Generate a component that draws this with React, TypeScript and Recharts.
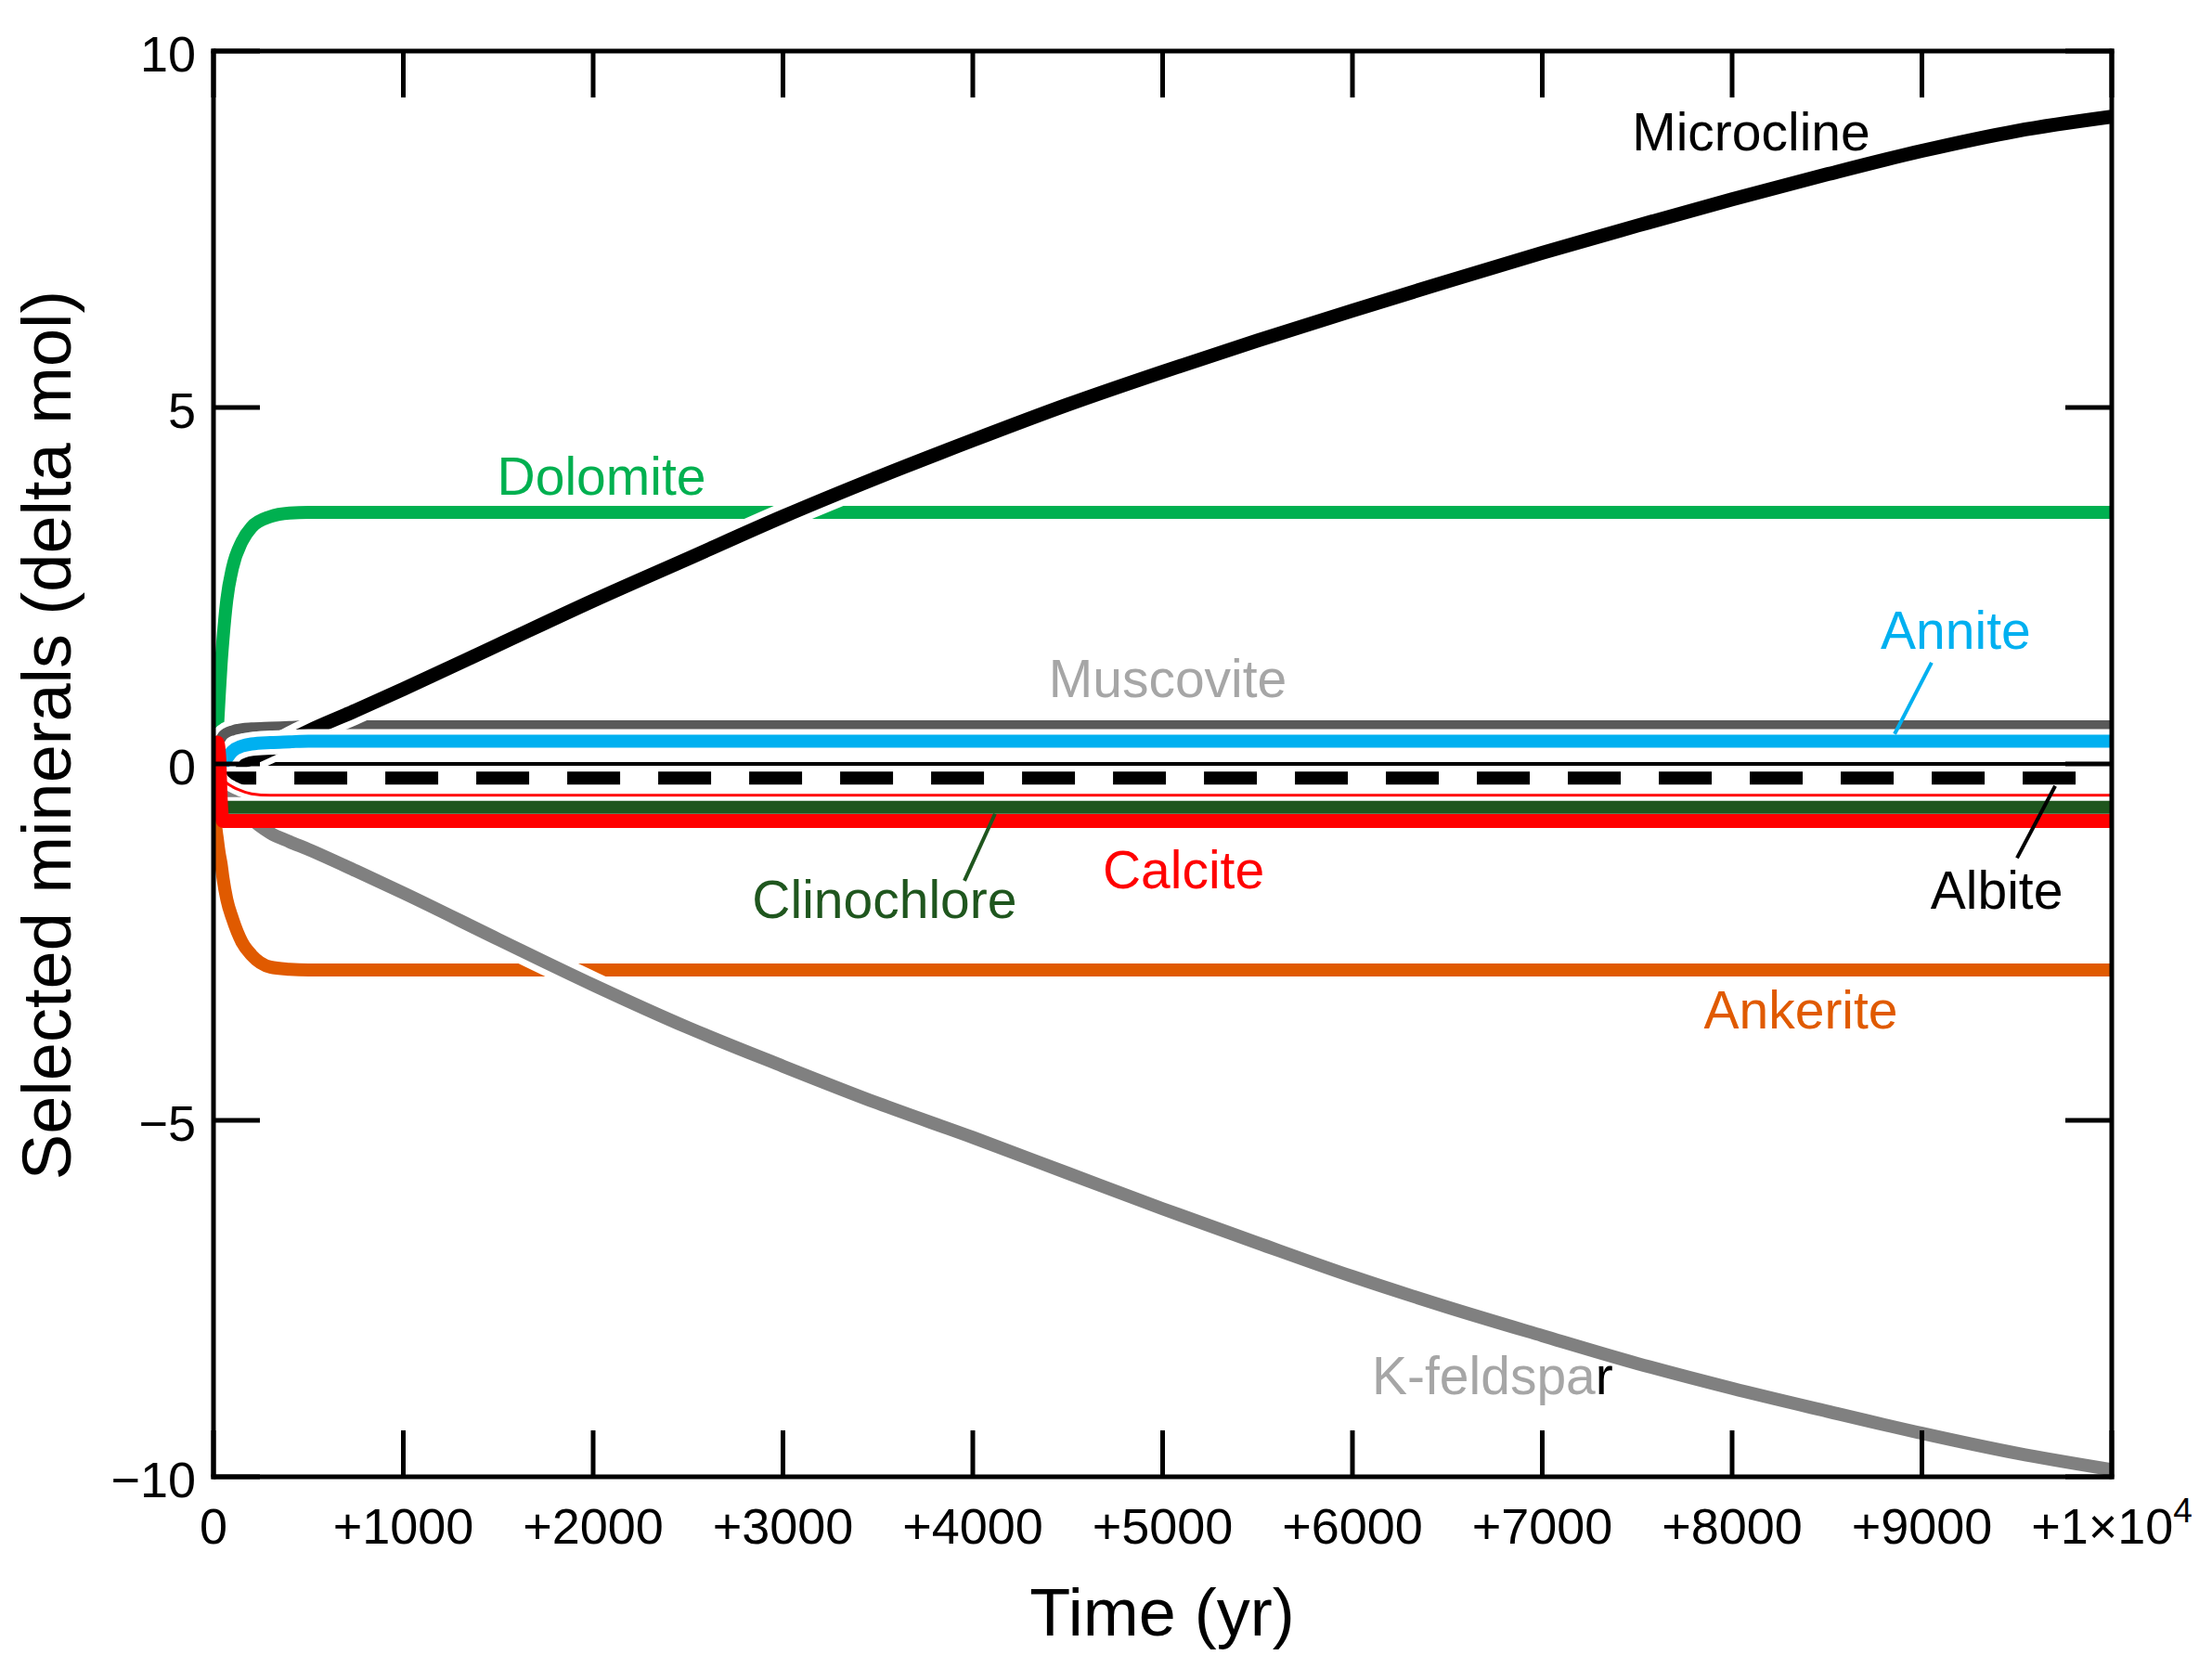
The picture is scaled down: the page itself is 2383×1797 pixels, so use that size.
import React from 'react'
import { LineChart, Line, XAxis, YAxis, ReferenceLine, ReferenceDot } from 'recharts'

const W = 2383
const H = 1797
const FONT = '"Liberation Sans", Arial, Helvetica, sans-serif'

// time (yr), shared by every series
const years = [0, 10, 20, 30, 40, 50, 70, 100, 150, 200, 300, 400, 500, 750, 1000, 1500, 2000, 2500, 3000, 3500, 4000, 4500, 5000, 5500, 6000, 6500, 7000, 7500, 8000, 8500, 9000, 9500, 10000]

// delta mol
const microcline = [0, 0, 0, 0, 0, 0, 0, 0.01, 0.03, 0.08, 0.2, 0.33, 0.46, 0.75, 1.05, 1.67, 2.29, 2.88, 3.47, 4.02, 4.54, 5.04, 5.5, 5.94, 6.36, 6.77, 7.17, 7.55, 7.92, 8.27, 8.6, 8.88, 9.08]
const kFeldspar = [0, -0.05, -0.1, -0.15, -0.2, -0.25, -0.33, -0.45, -0.62, -0.77, -0.97, -1.09, -1.2, -1.5, -1.81, -2.46, -3.1, -3.7, -4.24, -4.76, -5.24, -5.74, -6.24, -6.72, -7.19, -7.62, -8.02, -8.41, -8.76, -9.08, -9.39, -9.67, -9.9]
const dolomite = [0, 0.2, 0.48, 0.95, 1.4, 1.75, 2.3, 2.75, 3.12, 3.32, 3.47, 3.52, 3.53, 3.53, 3.53, 3.53, 3.53, 3.53, 3.53, 3.53, 3.53, 3.53, 3.53, 3.53, 3.53, 3.53, 3.53, 3.53, 3.53, 3.53, 3.53, 3.53, 3.53]
const muscovite = [0, 0.1, 0.22, 0.3, 0.36, 0.4, 0.44, 0.47, 0.5, 0.51, 0.52, 0.53, 0.54, 0.54, 0.54, 0.54, 0.54, 0.54, 0.54, 0.54, 0.54, 0.54, 0.54, 0.54, 0.54, 0.54, 0.54, 0.54, 0.54, 0.54, 0.54, 0.54, 0.54]
const annite = [0, 0, 0, 0, 0, 0, 0.08, 0.18, 0.25, 0.28, 0.3, 0.31, 0.32, 0.32, 0.32, 0.32, 0.32, 0.32, 0.32, 0.32, 0.32, 0.32, 0.32, 0.32, 0.32, 0.32, 0.32, 0.32, 0.32, 0.32, 0.32, 0.32, 0.32]
const albite = [0, -0.1, -0.18, -0.2, -0.2, -0.2, -0.2, -0.2, -0.2, -0.2, -0.2, -0.2, -0.2, -0.2, -0.2, -0.2, -0.2, -0.2, -0.2, -0.2, -0.2, -0.2, -0.2, -0.2, -0.2, -0.2, -0.2, -0.2, -0.2, -0.2, -0.2, -0.2, -0.2]
const minorRed = [0, -0.05, -0.1, -0.14, -0.18, -0.22, -0.27, -0.32, -0.38, -0.42, -0.44, -0.44, -0.44, -0.44, -0.44, -0.44, -0.44, -0.44, -0.44, -0.44, -0.44, -0.44, -0.44, -0.44, -0.44, -0.44, -0.44, -0.44, -0.44, -0.44, -0.44, -0.44, -0.44]
const clinochlore = [0, -0.3, -0.55, -0.61, -0.61, -0.61, -0.61, -0.61, -0.61, -0.61, -0.61, -0.61, -0.61, -0.61, -0.61, -0.61, -0.61, -0.61, -0.61, -0.61, -0.61, -0.61, -0.61, -0.61, -0.61, -0.61, -0.61, -0.61, -0.61, -0.61, -0.61, -0.61, -0.61]
const calcite = [0, 0.25, 0.3, 0.1, -0.6, -0.8, -0.8, -0.8, -0.8, -0.8, -0.8, -0.8, -0.8, -0.8, -0.8, -0.8, -0.8, -0.8, -0.8, -0.8, -0.8, -0.8, -0.8, -0.8, -0.8, -0.8, -0.8, -0.8, -0.8, -0.8, -0.8, -0.8, -0.8]
const ankerite = [0, -0.8, -1.05, -1.25, -1.4, -1.6, -1.9, -2.17, -2.5, -2.68, -2.85, -2.88, -2.89, -2.89, -2.89, -2.89, -2.89, -2.89, -2.89, -2.89, -2.89, -2.89, -2.89, -2.89, -2.89, -2.89, -2.89, -2.89, -2.89, -2.89, -2.89, -2.89, -2.89]

const xTicks = [0, 1000, 2000, 3000, 4000, 5000, 6000, 7000, 8000, 9000, 10000]
const xTickLabels = ['0', '+1000', '+2000', '+3000', '+4000', '+5000', '+6000', '+7000', '+8000', '+9000', '+1×10^4']
const yTicks = [-10, -5, 0, 5, 10]
const yTickLabels = ['−10', '−5', '0', '5', '10']

const rows = years.map((t, i) => ({
  t,
  microcline: microcline[i],
  kFeldspar: kFeldspar[i],
  dolomite: dolomite[i],
  muscovite: muscovite[i],
  annite: annite[i],
  albite: albite[i],
  minorRed: minorRed[i],
  clinochlore: clinochlore[i],
  calcite: calcite[i],
  ankerite: ankerite[i],
}))

// drawing order matters: later curves cut earlier ones with their white halo
const series = [
  { key: 'dolomite', color: '#00b050', width: 14, halo: 12 },
  { key: 'muscovite', color: '#595959', width: 11, halo: 12 },
  { key: 'ankerite', color: '#e05a00', width: 14, halo: 12 },
  { key: 'kFeldspar', color: '#808080', width: 14, halo: 14 },
  { key: 'microcline', color: '#000000', width: 15, halo: 14 },
  { key: 'annite', color: '#00b0f0', width: 14, halo: 12 },
  { key: 'albite', color: '#000000', width: 14, halo: 10, dash: '57 41' },
  { key: 'minorRed', color: '#ff0000', width: 3, halo: 10 },
  { key: 'clinochlore', color: '#1f561e', width: 14, halo: 8 },
  { key: 'calcite', color: '#ff0000', width: 15, halo: 0 },
]

const notes = [
  { text: 'Microcline', t: 8100, v: 8.61, color: '#000000' },
  { text: 'Dolomite', t: 2044, v: 3.78, color: '#00b050' },
  { text: 'Muscovite', t: 5027, v: 0.94, color: '#a6a6a6' },
  { text: 'Annite', t: 9178, v: 1.61, color: '#00b0f0' },
  { text: 'Albite', t: 9394, v: -2.03, color: '#000000' },
  { text: 'Clinochlore', t: 3535, v: -2.16, color: '#1f561e' },
  { text: 'Calcite', t: 5110, v: -1.74, color: '#ff0000' },
  { text: 'Ankerite', t: 8362, v: -3.71, color: '#e05a00' },
]

const leaders = [
  { color: '#00b0f0', from: { x: 9051, y: 1.42 }, to: { x: 8856, y: 0.42 } },
  { color: '#000000', from: { x: 9702, y: -0.31 }, to: { x: 9501, y: -1.32 } },
  { color: '#1f561e', from: { x: 4117, y: -0.7 }, to: { x: 3956, y: -1.64 } },
]

const frame = { stroke: '#000', strokeWidth: 5, strokeLinecap: 'square' as const }

// eslint-disable-next-line @typescript-eslint/no-explicit-any
const BottomTick = ({ x, y, payload }: any) => {
  const label = xTickLabels[xTicks.indexOf(payload.value)] ?? String(payload.value)
  const [base, exp] = label.split('^')
  return (
    <g>
      <line x1={x} x2={x} y1={y} y2={y - 50} stroke="#000" strokeWidth={5} />
      <text x={x} y={y + 72} textAnchor="middle" fontSize={54} fontFamily={FONT} fill="#000">
        {base}
        {exp && <tspan fontSize={37} dy={-23}>{exp}</tspan>}
      </text>
    </g>
  )
}

// eslint-disable-next-line @typescript-eslint/no-explicit-any
const TopTick = ({ x, y }: any) => (
  <line x1={x} x2={x} y1={y} y2={y + 50} stroke="#000" strokeWidth={5} />
)

// eslint-disable-next-line @typescript-eslint/no-explicit-any
const LeftTick = ({ x, y, payload }: any) => (
  <g>
    <line x1={x} x2={x + 50} y1={y} y2={y} stroke="#000" strokeWidth={5} />
    <text x={x - 19} y={y + 22} textAnchor="end" fontSize={54} fontFamily={FONT} fill="#000">
      {yTickLabels[yTicks.indexOf(payload.value)]}
    </text>
  </g>
)

// eslint-disable-next-line @typescript-eslint/no-explicit-any
const RightTick = ({ x, y }: any) => (
  <line x1={x} x2={x - 50} y1={y} y2={y} stroke="#000" strokeWidth={5} />
)

// eslint-disable-next-line @typescript-eslint/no-explicit-any
const noteShape = (text: string, color: string) => (p: any) => (
  <text x={p.cx} y={p.cy} textAnchor="middle" fontSize={57} fontFamily={FONT} fill={color}>
    {text}
  </text>
)

// eslint-disable-next-line @typescript-eslint/no-explicit-any
const kfeldShape = (p: any) => (
  <text x={p.cx} y={p.cy} textAnchor="middle" fontSize={57} fontFamily={FONT} fill="#a6a6a6">
    K-feldspa<tspan fill="#000">r</tspan>
  </text>
)

export default function App() {
  return (
    <div style={{ position: 'absolute', left: 0, top: 0, width: W, height: H, background: '#fff' }}>
      <LineChart width={W} height={H} data={rows} margin={{ top: 50, right: 100, bottom: 56, left: 100 }}>
        <XAxis xAxisId="b" dataKey="t" type="number" domain={[0, 10000]} ticks={xTicks} interval={0}
          allowDataOverflow tick={(p: any) => <BottomTick {...p} />} tickLine={false} tickSize={0} tickMargin={0}
          axisLine={frame} height={150} />
        <XAxis xAxisId="t" orientation="top" dataKey="t" type="number" domain={[0, 10000]} ticks={xTicks}
          interval={0} allowDataOverflow tick={(p: any) => <TopTick {...p} />} tickLine={false} tickSize={0}
          tickMargin={0} axisLine={frame} height={5} />
        <YAxis yAxisId="l" type="number" domain={[-10, 10]} ticks={yTicks} interval={0} allowDataOverflow
          tick={(p: any) => <LeftTick {...p} />} tickLine={false} tickSize={0} tickMargin={0}
          axisLine={frame} width={130} />
        <YAxis yAxisId="r" orientation="right" type="number" domain={[-10, 10]} ticks={yTicks} interval={0}
          allowDataOverflow tick={(p: any) => <RightTick {...p} />} tickLine={false} tickSize={0}
          tickMargin={0} axisLine={frame} width={8} />

        <ReferenceLine xAxisId="b" yAxisId="l" y={0} stroke="#000" strokeWidth={4} />

        {series.flatMap(s => {
          const out = []
          if (s.halo > 0) {
            out.push(
              <Line key={s.key + '-halo'} xAxisId="b" yAxisId="l" type="monotone" dataKey={s.key}
                stroke="#fff" strokeWidth={s.width + s.halo} dot={false} activeDot={false}
                isAnimationActive={false} />
            )
          }
          out.push(
            <Line key={s.key} xAxisId="b" yAxisId="l" type="monotone" dataKey={s.key}
              stroke={s.color} strokeWidth={s.width} strokeDasharray={s.dash} dot={false}
              activeDot={false} isAnimationActive={false} />
          )
          return out
        })}

        {leaders.map((l, i) => (
          <ReferenceLine key={'lead' + i} xAxisId="b" yAxisId="l" segment={[l.from, l.to]}
            stroke={l.color} strokeWidth={4} />
        ))}

        {notes.map(n => (
          <ReferenceDot key={n.text} xAxisId="b" yAxisId="l" x={n.t} y={n.v} r={0}
            shape={noteShape(n.text, n.color)} />
        ))}
        <ReferenceDot xAxisId="b" yAxisId="l" x={6738} y={-8.84} r={0} shape={kfeldShape} />
      </LineChart>

      <svg width={W} height={H} style={{ position: 'absolute', left: 0, top: 0, pointerEvents: 'none' }}>
        <text x={1252} y={1762} textAnchor="middle" fontSize={72} fontFamily={FONT} fill="#000">Time (yr)</text>
        <text x={76} y={792} textAnchor="middle" fontSize={74} fontFamily={FONT} fill="#000"
          transform="rotate(-90 76 792)">Selected minerals (delta mol)</text>
      </svg>
    </div>
  )
}
